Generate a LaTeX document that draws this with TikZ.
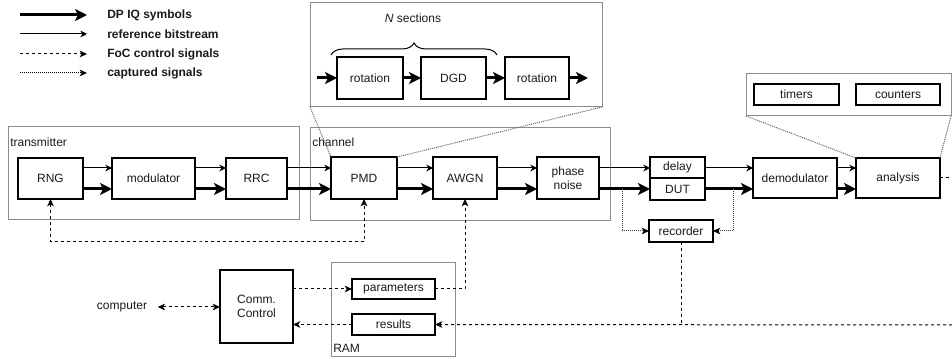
\documentclass[tikz,border=0pt]{standalone}
\usepackage{fontspec}
\setmainfont{Liberation Sans}
\usetikzlibrary{arrows.meta,fit,decorations.pathreplacing}

\definecolor{frame}{HTML}{8C8C8C}
\definecolor{ink}{HTML}{1A1A1A}

\begin{document}
\begin{tikzpicture}[x=0.75pt,y=-0.75pt,
  font=\fontsize{9}{10.5}\selectfont, text=ink,
  % solid blocks: width/height in drawing units
  blk/.style args={#1/#2}{draw=black, line width=1.5pt, inner sep=1pt, outer sep=0pt,
    align=center, minimum width=#1*0.75pt, minimum height=#2*0.75pt},
  % grey grouping frames
  grp/.style={draw=frame, line width=0.75pt, fit={#1}, inner sep=0pt, outer sep=0pt},
  % DP IQ symbols
  iq/.style={line width=2.25pt, -{Stealth[length=9pt,width=9pt,inset=2.2pt]}},
  % reference bitstream
  ref/.style={line width=0.75pt, -{Stealth[length=5pt,width=5pt,inset=1.5pt]}},
  % FoC control signals
  ctrl/.style={line width=0.75pt, dash pattern=on 2.25pt off 2.25pt},
  ctrltip/.style={-{Stealth[length=5.5pt,width=5pt,inset=1.5pt]}},
  % captured signals
  capt/.style={line width=0.75pt, dash pattern=on 0.75pt off 0.75pt, black!75},
  capttip/.style={-{Stealth[length=5.5pt,width=5pt,inset=1.5pt,black]}},
  % zoom guides
  guide/.style={line width=0.75pt, dash pattern=on 0.75pt off 0.75pt, black!60},
  lbl/.style={inner sep=0pt, anchor=west}
]
\useasboundingbox (0,0) rectangle (952,359);

% ---------------- legend ----------------
\foreach \i/\y in {1/15,2/34,3/54,4/73}{
  \coordinate (lgs\i) at (20,\y);
  \coordinate (lge\i) at (87,\y);
}
\draw[iq] (lgs1) -- (lge1);
\draw[ref] (lgs2) -- (lge2);
\draw[ctrl,ctrltip] (lgs3) -- (lge3);
\draw[line width=0.75pt, dash pattern=on 0.75pt off 0.75pt, capttip] (lgs4) -- (lge4);
\node[lbl, font=\fontsize{9}{10.5}\selectfont\bfseries] (lgt1) at (107,15) {DP IQ symbols};
\node[lbl, font=\fontsize{9}{10.5}\selectfont\bfseries] (lgt2) at (107,34) {reference bitstream};
\node[lbl, font=\fontsize{9}{10.5}\selectfont\bfseries] (lgt3) at (107,54) {FoC control signals};
\node[lbl, font=\fontsize{9}{10.5}\selectfont\bfseries] (lgt4) at (107,73) {captured signals};

% ---------------- PMD detail ----------------
\node[grp={(310,3)(602,107)}] (zbox) {};
\node (nsec) at (413,18) {\textit{N} sections};
\draw[line width=0.75pt, decorate, decoration={brace, amplitude=9pt}] (331,55) -- (497,55);
\node[blk=66/42] (rot1) at (370,78) {rotation};
\node[blk=65/42] (dgd) at (453.5,78) {DGD};
\node[blk=64/42] (rot2) at (537,78) {rotation};
\coordinate (zin) at (317,78);
\coordinate (zout) at (588,78);
\draw[iq] (zin) -- (rot1);
\draw[iq] (rot1) -- (dgd);
\draw[iq] (dgd) -- (rot2);
\draw[iq] (rot2) -- (zout);

% ---------------- analysis detail ----------------
\node[grp={(746,74)(951,116)}] (abox) {};
\node[blk=85/21] (tim) at (796.5,94.5) {timers};
\node[blk=84/21] (cnt) at (898,94.5) {counters};

% ---------------- transmitter ----------------
\node[grp={(8,127)(299,220)}] (tx) {};
\node[lbl] (txl) at (10,142) {transmitter};
\node[blk=65/41] (rng) at (50.5,178.5) {RNG};
\node[blk=83/41] (mod) at (153.5,178.5) {modulator};
\node[blk=61/41] (rrc) at (256.5,178.5) {RRC};

% ---------------- channel ----------------
\node[grp={(310,128)(610,221)}] (ch) {};
\node[lbl] (chl) at (312,142) {channel};
\node[blk=66/42] (pmd) at (364,178) {PMD};
\node[blk=64/42] (awgn) at (465,178) {AWGN};
\node[blk=62/42] (pn) at (568,178) {phase\\noise};

% ---------------- receiver side ----------------
\node[blk=55/21] (dly) at (677.5,167.5) {delay};
\node[blk=55/22] (dut) at (677.5,189) {DUT};
\node[blk=84/40] (dem) at (795,178) {demodulator};
\node[blk=84/40] (ana) at (898,178) {analysis};
\node[blk=64/22] (rec) at (681,231) {recorder};

% ---------------- control side ----------------
\node[blk=73/73] (comm) at (256.5,306.5) {Comm.\\Control};
\node[grp={(331,263)(455,356)}] (ram) {};
\node[lbl] (raml) at (333,348) {RAM};
\node[blk=83/20] (par) at (393.5,289) {parameters};
\node[blk=83/21] (res) at (393.5,324.5) {results};
\node (comp) at (122,307) {computer};

% ---------------- signal rows ----------------
\coordinate (rowA) at (0,168);
\coordinate (rowB) at (0,189);

\draw[ref] (rng.east |- rowA) -- (mod.west |- rowA);
\draw[iq]  (rng.east |- rowB) -- (mod.west |- rowB);
\draw[ref] (mod.east |- rowA) -- (rrc.west |- rowA);
\draw[iq]  (mod.east |- rowB) -- (rrc.west |- rowB);
\draw[ref] (rrc.east |- rowA) -- (pmd.west |- rowA);
\draw[iq]  (rrc.east |- rowB) -- (pmd.west |- rowB);
\draw[ref] (pmd.east |- rowA) -- (awgn.west |- rowA);
\draw[iq]  (pmd.east |- rowB) -- (awgn.west |- rowB);
\draw[ref] (awgn.east |- rowA) -- (pn.west |- rowA);
\draw[iq]  (awgn.east |- rowB) -- (pn.west |- rowB);
\draw[ref] (pn.east |- rowA) -- (dly.west |- rowA);
\draw[iq]  (pn.east |- rowB) -- (dut.west |- rowB);
\draw[ref] (dly.east |- rowA) -- (dem.west |- rowA);
\draw[iq]  (dut.east |- rowB) -- (dem.west |- rowB);
\draw[ref] (dem.east |- rowA) -- (ana.west |- rowA);
\draw[iq]  (dem.east |- rowB) -- (ana.west |- rowB);

% captured signals into the recorder
\coordinate (tapL) at (622,189);
\coordinate (tapR) at (733,189);
\draw[capt, capttip] (tapL) |- (rec.west);
\draw[capt, capttip] (tapR) |- (rec.east);

% zoom guides
\draw[guide] (zbox.south west) -- (pmd.north west);
\draw[guide] (zbox.south east) -- (pmd.north east);
\draw[guide] (abox.south west) -- (ana.north west);
\draw[guide] (abox.south east) -- (ana.north east);

% ---------------- FoC control signals ----------------
\coordinate (cbus) at (200,242);
\draw[ctrl, {Stealth[length=5.5pt,width=5pt,inset=1.5pt]}-{Stealth[length=5.5pt,width=5pt,inset=1.5pt]}]
  (rng.south) |- (cbus) -| (pmd.south);
\draw[ctrl, ctrltip] (par.east) -| (awgn.south);
\draw[ctrl, ctrltip] (comm.east |- par.west) -- (par.west);
\draw[ctrl, ctrltip] (res.west) -- (comm.east |- res.west);
\draw[ctrl, {Stealth[length=5.5pt,width=5pt,inset=1.5pt]}-{Stealth[length=5.5pt,width=5pt,inset=1.5pt]}]
  (comp.east) ++(6,0) coordinate (compR) -- (comm.west |- comp.east);

\coordinate (edgeA) at (952,178);
\coordinate (edgeB) at (952,325);
\draw[ctrl] (ana.east) -- (edgeA);
\draw[ctrl, ctrltip] (edgeB) -- (res.east);
\draw[ctrl] (rec.south) -- (rec.south |- edgeB);

\end{tikzpicture}
\end{document}
